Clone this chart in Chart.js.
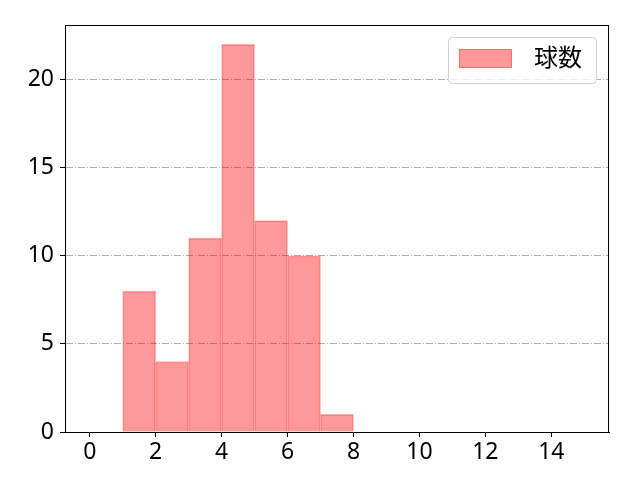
<!DOCTYPE html>
<html>
<head>
<meta charset="utf-8">
<script src="https://cdn.jsdelivr.net/npm/chart.js@4.4.0/dist/chart.umd.min.js"></script>
<style>
  body { margin: 0; background: #fff; }
</style>
</head>
<body>
<canvas id="pitchCountChart" width="640" height="480"></canvas>
<script>
// histogram bins (edges) and counts per bin
var binEdges = [0, 1, 2, 3, 4, 5, 6, 7, 8, 9, 10, 11, 12, 13, 14, 15];
var counts = [0, 8, 4, 11, 22, 12, 10, 1, 0, 0, 0, 0, 0, 0, 0];
var xTicks = [0, 2, 4, 6, 8, 10, 12, 14];
var yTicks = [0, 5, 10, 15, 20];
var seriesLabel = '球数';

var points = counts.map(function(c, i) {
    return { x: (binEdges[i] + binEdges[i + 1]) / 2, y: c };
});
var xSpan = binEdges[binEdges.length - 1] - binEdges[0];

Chart.defaults.font.family = "'Noto Sans', 'Noto Sans CJK JP', sans-serif";
Chart.defaults.color = '#000';

// frame around the plot area + matplotlib-like legend in the upper right
var frameAndLegend = {
    id: 'frameAndLegend',
    afterDraw: function(chart) {
        var ctx = chart.ctx, a = chart.chartArea;
        var ds = chart.data.datasets[0];
        ctx.save();
        ctx.strokeStyle = '#000';
        ctx.lineWidth = 1;
        ctx.strokeRect(Math.round(a.left) + 0.5, Math.round(a.top) + 0.5,
            Math.round(a.right - a.left) - 1, Math.round(a.bottom - a.top));

        ctx.font = "24px 'Noto Sans', 'Noto Sans CJK JP', sans-serif";
        var tw = ctx.measureText(ds.label).width;
        var bw = 11 + 53 + 22 + tw + 14;
        var x0 = Math.round(a.right - 13 - bw), y0 = Math.round(a.top + 12);
        ctx.beginPath();
        ctx.roundRect(x0 + 0.5, y0 + 0.5, bw, 46, 4);
        ctx.fillStyle = 'rgba(255,255,255,0.8)';
        ctx.fill();
        ctx.strokeStyle = '#d0d0d0';
        ctx.stroke();

        ctx.fillStyle = ds.backgroundColor;
        ctx.fillRect(x0 + 11, y0 + 12, 53, 19);
        ctx.strokeStyle = ds.borderColor;
        ctx.strokeRect(x0 + 11.5, y0 + 12.5, 52, 18);

        ctx.fillStyle = '#000';
        ctx.textBaseline = 'middle';
        ctx.fillText(ds.label, x0 + 11 + 53 + 22, y0 + 22);
        ctx.restore();
    }
};

new Chart(document.getElementById('pitchCountChart'), {
    type: 'bar',
    data: {
        datasets: [{
            label: seriesLabel,
            data: points,
            backgroundColor: 'rgba(255,0,0,0.4)',
            borderColor: 'rgba(255,0,0,0.3)',
            borderWidth: 1,
            borderSkipped: 'start',
            barPercentage: 1,
            categoryPercentage: 1
        }]
    },
    options: {
        responsive: false,
        animation: false,
        devicePixelRatio: 1,
        layout: { padding: { left: 10, right: 31, top: 25, bottom: 0 } },
        plugins: {
            tooltip: { enabled: false },
            legend: { display: false }
        },
        scales: {
            x: {
                type: 'linear',
                offset: false,
                min: binEdges[0] - xSpan * 0.05,
                max: binEdges[binEdges.length - 1] + xSpan * 0.05,
                z: 1,
                afterBuildTicks: function(s) { s.ticks = xTicks.map(function(v) { return { value: v }; }); },
                afterFit: function(s) { s.height = 48; },
                grid: { offset: false, drawOnChartArea: false, tickLength: 5, tickColor: '#000', tickWidth: 1 },
                border: { color: '#000', width: 1 },
                ticks: { padding: 2, font: { size: 23 }, maxRotation: 0 }
            },
            y: {
                min: 0,
                max: Math.max.apply(null, counts) * 1.05,
                z: 1,
                afterBuildTicks: function(s) { s.ticks = yTicks.map(function(v) { return { value: v }; }); },
                afterFit: function(s) { s.width = 55; },
                grid: {
                    color: function(c) { return c.tick && c.tick.value === 0 ? 'rgba(0,0,0,0)' : '#b0b0b0'; },
                    lineWidth: 1,
                    tickBorderDash: [],
                    tickColor: '#000',
                    tickLength: 5
                },
                border: { color: '#000', width: 1, dash: [7, 2, 1, 2] },
                ticks: { padding: 6, font: { size: 23 } }
            }
        }
    },
    plugins: [frameAndLegend]
});
</script>
</body>
</html>
